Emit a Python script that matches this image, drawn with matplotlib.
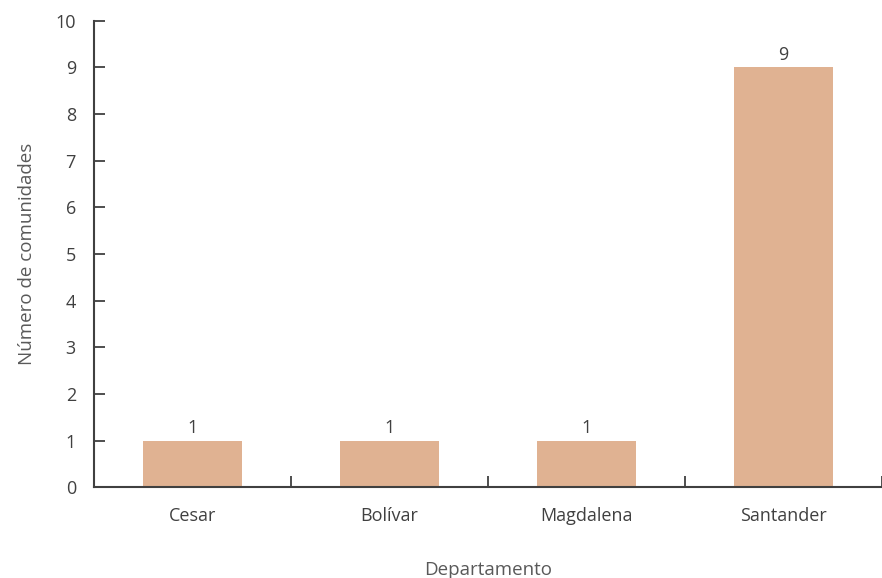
import matplotlib
matplotlib.use("Agg")
import matplotlib.pyplot as plt
import numpy as np

categories = ["Cesar", "Bolívar", "Magdalena", "Santander"]
values = [1, 1, 1, 9]
y_ticks = [0, 1, 2, 3, 4, 5, 6, 7, 8, 9, 10]

plt.rcParams['font.family'] = ['Open Sans', 'DejaVu Sans']

fig = plt.figure(figsize=(8.82, 5.78), dpi=100)
ax = fig.add_axes([94/882, 1 - 487.3/578, 1 - 94/882, (487.3 - 20.7)/578])

x = np.arange(len(categories))
bars = ax.bar(x, values, width=0.505, color="#E0B292", zorder=2)
for xi, v in zip(x, values):
    ax.text(xi, v + 0.08, str(v), ha="center", va="bottom", fontsize=13, color="#404040")

ax.set_xlim(-0.5, 3.445)
ax.set_ylim(0, 10)
ax.set_yticks(y_ticks)
ax.set_xticks(x)
ax.set_xticklabels(categories)
ax.set_xticks(np.arange(0.5, len(categories) - 0.5 + 0.01, 1.0), minor=True)

spine_col = "#404040"
for s in ["top", "right"]:
    ax.spines[s].set_visible(False)
for s in ["left", "bottom"]:
    ax.spines[s].set_color(spine_col)
    ax.spines[s].set_linewidth(1.5)

ax.tick_params(axis="y", direction="in", length=8, width=1.3, color=spine_col,
               labelsize=13, labelcolor="#404040", pad=13)
ax.tick_params(axis="x", which="major", length=0, labelsize=13, labelcolor="#404040", pad=14)
ax.tick_params(axis="x", which="minor", direction="in", length=8, width=1.3, color=spine_col)

ax.set_ylabel("Número de comunidades", fontsize=13.5, color="#595959", labelpad=14)
ax.set_xlabel("Departamento", fontsize=13.5, color="#595959", labelpad=26)

fig.savefig("out.png", dpi=100)
